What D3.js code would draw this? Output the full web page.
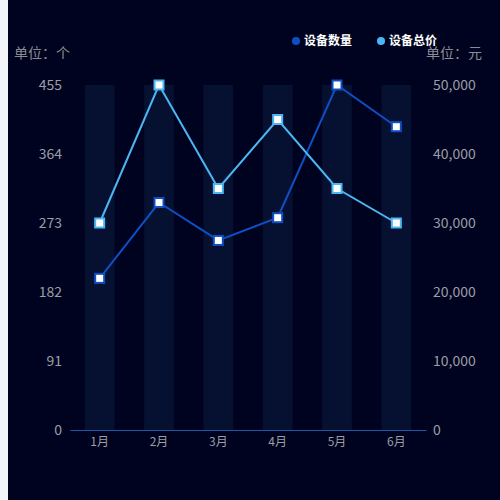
<!DOCTYPE html>
<html><head><meta charset="utf-8">
<script src="https://cdn.jsdelivr.net/npm/d3@7"></script>
<style>html,body{margin:0;padding:0;background:#f3f5fa;}svg{display:block;}</style>
</head><body>
<svg id="c" width="500" height="500"></svg>
<script>
const categories = ["1月","2月","3月","4月","5月","6月"];
const countValues = [200, 300, 250, 280, 455, 400];
const totalValues = [30000, 50000, 35000, 45000, 35000, 30000];
const leftTicks = [0, 91, 182, 273, 364, 455];
const rightTicks = [0, 10000, 20000, 30000, 40000, 50000];
const seriesNames = ["设备数量", "设备总价"];
const colors = ["#0e4fc4", "#4ab6f3"];

const font = "'Noto Sans CJK SC','Microsoft YaHei',sans-serif";
const svg = d3.select("#c");
svg.append("rect").attr("x",8).attr("y",0).attr("width",492).attr("height",500).attr("fill","#00031f");

const L = 70, R = 426, T = 85, B = 430;
const x = d3.scaleBand().domain(categories).range([L, R]);
const yL = d3.scaleLinear().domain([0, 455]).range([B, T]);
const yR = d3.scaleLinear().domain([0, 50000]).range([B, T]);

// shadow bars
svg.append("g").selectAll("rect").data(categories).join("rect")
  .attr("x", d => x(d) + x.bandwidth()*0.25)
  .attr("width", x.bandwidth()*0.5)
  .attr("y", yL(455)).attr("height", yL(0)-yL(455))
  .attr("fill", "#061132");

// left axis
const gL = svg.append("g").attr("transform", `translate(${L},0)`)
  .call(d3.axisLeft(yL).tickValues(leftTicks).tickSize(0).tickPadding(8));
gL.select(".domain").remove();
gL.selectAll("text").attr("fill","#9c9ea6").attr("font-size",14).attr("font-family",font);

const gR = svg.append("g").attr("transform", `translate(${R},0)`)
  .call(d3.axisRight(yR).tickValues(rightTicks).tickSize(0).tickPadding(7).tickFormat(d3.format(",")));
gR.select(".domain").remove();
gR.selectAll("text").attr("fill","#9c9ea6").attr("font-size",14).attr("font-family",font);

const gX = svg.append("g").attr("transform", `translate(0,${B})`)
  .call(d3.axisBottom(x).tickSize(0).tickPadding(7));
gX.select(".domain").attr("stroke","#1d5aa6").attr("stroke-width",1.2);
gX.selectAll("text").attr("fill","#9c9ea6").attr("font-size",12).attr("font-family",font);

// unit labels
svg.append("text").attr("x",14).attr("y",58).text("单位：个")
  .attr("fill","#8a8c94").attr("font-size",14).attr("font-family",font);
svg.append("text").attr("x",482).attr("y",58).attr("text-anchor","end").text("单位：元")
  .attr("fill","#8a8c94").attr("font-size",14).attr("font-family",font);

// lines
const cx = d => x(d) + x.bandwidth()/2;
const series = [
  {vals: countValues, y: yL, color: colors[0]},
  {vals: totalValues, y: yR, color: colors[1]}
];
series.forEach(s => {
  const line = d3.line().x((v,i) => cx(categories[i])).y(v => s.y(v));
  svg.append("path").attr("d", line(s.vals)).attr("fill","none")
    .attr("stroke", s.color).attr("stroke-width", 2);
});
series.forEach(s => {
  svg.append("g").selectAll("rect").data(s.vals).join("rect")
    .attr("x", (v,i) => cx(categories[i]) - 4.5)
    .attr("y", v => s.y(v) - 4.5)
    .attr("width", 9).attr("height", 9)
    .attr("fill", "#fff").attr("stroke", s.color).attr("stroke-width", 2);
});

// legend
const lg = svg.append("g");
const legX = [296, 381];
seriesNames.forEach((n,i) => {
  lg.append("circle").attr("cx", legX[i]).attr("cy", 41).attr("r", 4).attr("fill", colors[i]);
  lg.append("text").attr("x", legX[i]+8).attr("y", 45).text(n)
    .attr("fill","#ffffff").attr("font-size",12).attr("font-weight","bold").attr("font-family",font);
});
</script>
</body></html>
